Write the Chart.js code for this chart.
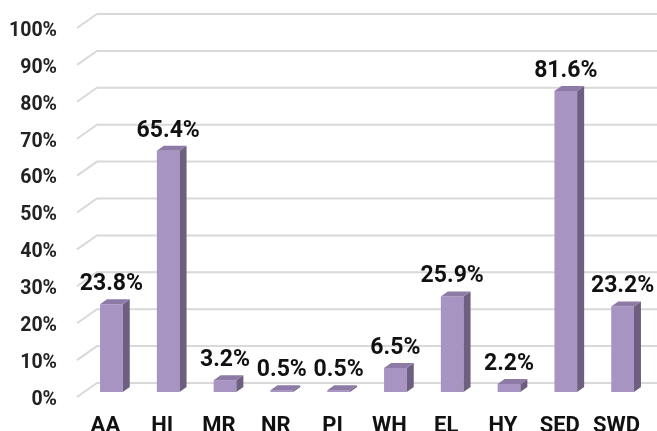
<!DOCTYPE html>
<html>
<head>
<meta charset="utf-8">
<script src="https://cdn.jsdelivr.net/npm/chart.js@4.4.1/dist/chart.umd.min.js"></script>
<style>
html,body{margin:0;padding:0;background:#fff;}
#wrap{width:657px;height:431px;position:relative;}
</style>
</head>
<body>
<div id="wrap"><canvas id="c"></canvas></div>
<script>
const categories = ["AA","HI","MR","NR","PI","WH","EL","HY","SED","SWD"];
const values = [23.8,65.4,3.2,0.5,0.5,6.5,25.9,2.2,81.6,23.2];
const yTicks = [0,10,20,30,40,50,60,70,80,90,100];

const FRONT = "#a894c2", SIDE = "#6e5f80", TOP = "#8d7aa6";
const DX = 7, DY = 5;

const grid3d = {
  id: "grid3d",
  beforeDatasetsDraw(chart) {
    const ctx = chart.ctx, y = chart.scales.y, area = chart.chartArea;
    ctx.save();
    ctx.strokeStyle = "#d9d9d9";
    ctx.lineWidth = 2;
    y.ticks.forEach(t => {
      const py = y.getPixelForValue(t.value);
      ctx.beginPath();
      ctx.moveTo(area.left - 6, py + 5);
      ctx.lineTo(area.left + 14, py - 9);
      ctx.lineTo(chart.width, py - 9);
      ctx.stroke();
    });
    ctx.restore();
  },
  afterDatasetsDraw(chart) {
    const ctx = chart.ctx;
    const meta = chart.getDatasetMeta(0);
    ctx.save();
    meta.data.forEach((bar, i) => {
      const p = bar.getProps(["x","y","base","width"], true);
      const l = p.x - p.width/2, r = p.x + p.width/2;
      ctx.fillStyle = SIDE;
      ctx.beginPath();
      ctx.moveTo(r, p.y); ctx.lineTo(r+DX, p.y-DY); ctx.lineTo(r+DX, p.base-DY); ctx.lineTo(r, p.base);
      ctx.closePath(); ctx.fill();
      ctx.fillStyle = TOP;
      ctx.beginPath();
      ctx.moveTo(l, p.y); ctx.lineTo(l+DX, p.y-DY); ctx.lineTo(r+DX, p.y-DY); ctx.lineTo(r, p.y);
      ctx.closePath(); ctx.fill();
      ctx.fillStyle = "#111";
      ctx.font = "bold 23px Roboto";
      ctx.textAlign = "center";
      ctx.textBaseline = "alphabetic";
      ctx.fillText(values[i].toFixed(1) + "%", p.x, p.y - 14);
    });
    ctx.restore();
  }
};

new Chart(document.getElementById("c"), {
  type: "bar",
  data: {
    labels: categories,
    datasets: [{
      data: values,
      backgroundColor: FRONT,
      borderWidth: 0,
      categoryPercentage: 1,
      barPercentage: 0.4
    }]
  },
  options: {
    responsive: true,
    maintainAspectRatio: false,
    animation: false,
    layout: { padding: { left: 0, right: 6, top: 23, bottom: 0 } },
    plugins: { legend: { display: false }, tooltip: { enabled: false } },
    scales: {
      x: {
        grid: { display: false, drawTicks: false },
        border: { display: false },
        ticks: {
          font: { family: "Roboto", size: 22, weight: "bold" },
          color: "#111",
          labelOffset: -6,
          padding: 21,
          maxRotation: 0
        },
        afterFit(s) { s.height = 39; s.paddingLeft = 0; s.paddingRight = 0; }
      },
      y: {
        min: 0, max: 100,
        afterBuildTicks(s) { s.ticks = yTicks.map(v => ({ value: v })); },
        grid: { display: false, drawTicks: false },
        border: { display: false },
        ticks: {
          font: { family: "Roboto", size: 19.5, weight: "bold" },
          color: "#222",
          padding: 26,
          labelOffset: 8,
          callback: v => v + "%"
        },
        afterFit(s) { s.width = 83; s.paddingTop = 0; s.paddingBottom = 0; }
      }
    }
  },
  plugins: [grid3d]
});
</script>
</body>
</html>
